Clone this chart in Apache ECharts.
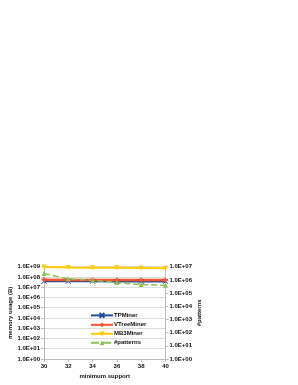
<!DOCTYPE html>
<html><head><meta charset="utf-8">
<script src="https://cdn.jsdelivr.net/npm/echarts@6/dist/echarts.min.js"></script>
<style>html,body{margin:0;padding:0;background:#fff}#c{width:298px;height:385px}</style>
</head><body><div id="c"></div>
<script>
var categories = ['30','32','34','36','38','40'];
var tpMiner = [3.8e7, 3.8e7, 3.8e7, 3.7e7, 3.7e7, 3.7e7];
var vTreeMiner = [5.2e7, 5.0e7, 5.0e7, 5.0e7, 5.0e7, 5.0e7];
var mb3Miner = [9.5e8, 8.5e8, 8.0e8, 7.8e8, 7.5e8, 7.2e8];
var patterns = [3.0e6, 1.2e6, 9.5e5, 6.3e5, 4.4e5, 3.9e5];

function fmt(v){
  var e = Math.round(Math.log10(v));
  return '1.0E+' + (e < 10 ? '0' : '') + e;
}
var font = {fontFamily:'Liberation Sans', fontWeight:'bold', fontSize:6, color:'#111'};
var chart = echarts.init(document.getElementById('c'));
chart.setOption({
  animation:false,
  grid:{left:44, right:132.5, top:266.7, bottom:26},
  legend:{
    orient:'vertical', left:90, top:312, padding:0, itemWidth:22, itemHeight:6, itemGap:3,
    textStyle:Object.assign({}, font, {fontSize:6, padding:[0,0,0,-4]}),
    data:['TPMiner','VTreeMiner','MB3Miner','#patterns']
  },
  xAxis:{
    type:'category', data:categories, boundaryGap:false,
    name:'minimum support', nameLocation:'middle', nameGap:14,
    nameTextStyle:font,
    axisLine:{lineStyle:{color:'#bbb'}},
    axisTick:{show:true, lineStyle:{color:'#bbb'}, length:3},
    axisLabel:Object.assign({}, font, {margin:4}),
    splitLine:{show:false}
  },
  yAxis:[{
    type:'log', logBase:10, min:1, max:1e9,
    name:'memory usage (B)', nameLocation:'middle', nameGap:27, nameRotate:90,
    nameTextStyle:font,
    axisLine:{show:true, lineStyle:{color:'#bbb'}},
    axisTick:{show:true, length:3, lineStyle:{color:'#bbb'}},
    axisLabel:Object.assign({}, font, {formatter:fmt, margin:4}),
    splitLine:{show:true, lineStyle:{color:'#ddd', width:1}},
    minorTick:{show:false}, minorSplitLine:{show:false}
  },{
    type:'log', logBase:10, min:1, max:1e7,
    name:'#patterns', nameLocation:'middle', nameGap:29, nameRotate:90,
    nameTextStyle:font,
    axisLine:{show:true, lineStyle:{color:'#bbb'}},
    axisTick:{show:true, length:3, lineStyle:{color:'#bbb'}},
    axisLabel:Object.assign({}, font, {formatter:fmt, margin:4}),
    splitLine:{show:false}
  }],
  series:[
    {name:'TPMiner', type:'line', data:tpMiner, color:'#1f4e9a', symbol:'path://M0,0L10,10M10,0L0,10', symbolSize:5,
     lineStyle:{width:2}, itemStyle:{borderColor:'#1f4e9a', borderWidth:1}},
    {name:'VTreeMiner', type:'line', data:vTreeMiner, color:'#f4542e', symbol:'diamond', symbolSize:5,
     lineStyle:{width:2.5}},
    {name:'MB3Miner', type:'line', data:mb3Miner, color:'#ffcc00', symbol:'path://M0,0L10,0L5,10Z', symbolSize:5,
     lineStyle:{width:2}},
    {name:'#patterns', type:'line', yAxisIndex:1, data:patterns, color:'#8cc152', symbol:'triangle', symbolSize:5,
     lineStyle:{width:1.5, type:'dashed'}}
  ]
});
</script></body></html>
